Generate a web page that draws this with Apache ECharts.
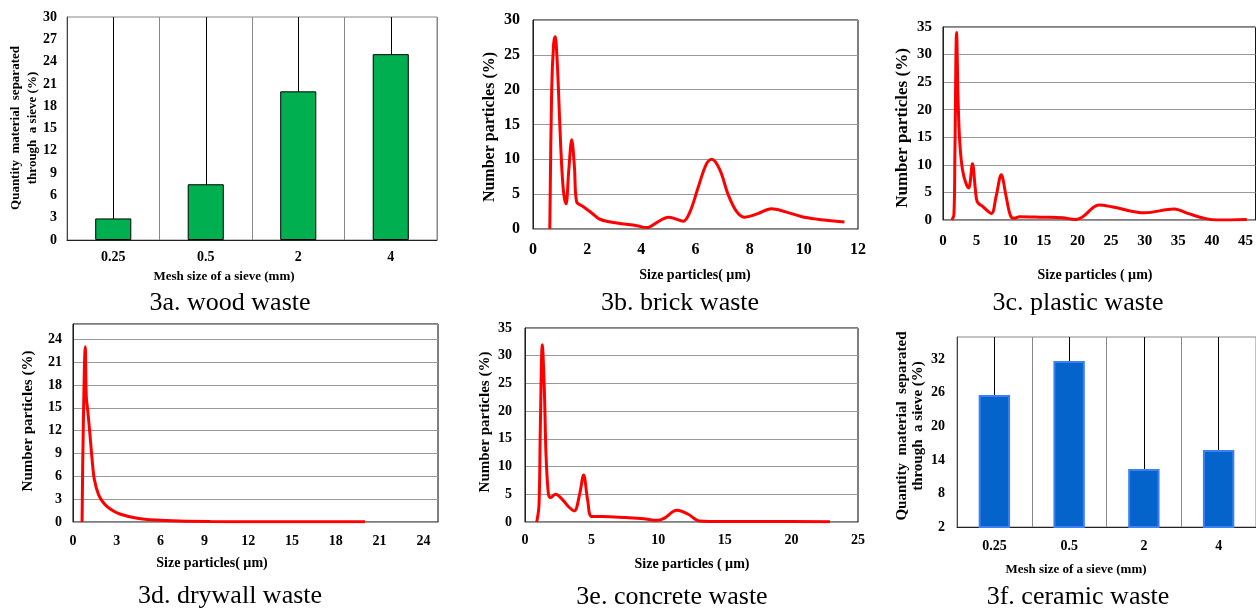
<!DOCTYPE html>
<html><head><meta charset="utf-8">
<script src="https://cdn.jsdelivr.net/npm/echarts@6/dist/echarts.min.js"></script>
<style>html,body{margin:0;padding:0;background:#fff}#c{width:1256px;height:612px}</style>
</head><body><div id="c"></div>
<script>
// ---- data ----
const sieveCategories = ['0.25', '0.5', '2', '4'];
const woodValues = [2.9, 7.5, 20, 25];
const ceramicValues = [25.6, 31.7, 12.4, 15.8];

const brickX = [0.62, 0.69, 0.76, 0.82, 0.88, 0.94, 1.02, 1.12, 1.22, 1.32, 1.43, 1.53, 1.61, 1.86, 2.17, 2.47, 3.1, 3.83, 4.2, 4.6, 5.0, 5.3, 5.55, 5.8, 6.1, 6.4, 6.6, 6.9, 7.2, 7.5, 7.8, 8.3, 8.8, 9.3, 9.9, 10.5, 11.0, 11.5];
const brickY = [0, 20, 26.5, 27.6, 25, 20, 12.2, 5.6, 3.6, 8.4, 12.8, 8.9, 3.9, 3.2, 2.3, 1.4, 0.85, 0.47, 0.2, 1.0, 1.7, 1.4, 1.1, 2.5, 6.0, 9.3, 10.0, 8.5, 5.0, 2.6, 1.7, 2.2, 2.9, 2.5, 1.8, 1.4, 1.2, 1.0];

const plasticX = [1.3, 1.62, 1.77, 2.02, 2.26, 2.5, 2.9, 3.4, 3.83, 4.38, 4.82, 5.1, 5.95, 7.2, 7.9, 8.66, 9.4, 10.0, 10.5, 11.4, 14.8, 17.8, 19.7, 20.7, 23.2, 25.1, 30.0, 34.4, 36.4, 38.9, 40.8, 45.2];
const plasticY = [0, 0.9, 12, 34, 21, 14, 9.1, 6.7, 5.8, 10.2, 5.5, 3.3, 2.4, 1.2, 4.3, 8.2, 4.2, 0.9, 0.3, 0.6, 0.5, 0.4, 0.1, 0.5, 2.7, 2.4, 1.3, 2.0, 1.2, 0.3, 0.0, 0.1];

const drywallX = [0.62, 0.7, 0.84, 0.91, 1.0, 1.1, 1.2, 1.3, 1.46, 1.75, 2.1, 2.55, 3.2, 4.4, 5.7, 7.3, 9.4, 12, 15, 18, 20];
const drywallY = [0, 12, 23, 16.5, 14.8, 12.8, 10.6, 8.4, 5.6, 3.6, 2.5, 1.7, 1.05, 0.5, 0.25, 0.12, 0.06, 0.04, 0.03, 0.02, 0.02];

const concreteX = [0.88, 1.05, 1.15, 1.3, 1.45, 1.58, 1.75, 1.9, 2.3, 2.9, 3.25, 3.7, 4.1, 4.4, 4.7, 5.0, 5.75, 7.6, 8.9, 9.9, 10.4, 11.4, 12.25, 13.1, 14.9, 18, 22.9];
const concreteY = [0, 3, 17, 32, 24, 12, 5.2, 4.4, 5.0, 3.8, 2.8, 2.0, 5, 8.5, 4, 1.0, 1.0, 0.8, 0.6, 0.3, 0.6, 2.1, 1.4, 0.2, 0.1, 0.1, 0.05];

const captions = ['3a. wood waste', '3b. brick waste', '3c. plastic waste', '3d. drywall waste', '3e. concrete waste', '3f. ceramic waste'];
const sieveTitle = 'Mesh size of a sieve (mm)';
const quantityTitle = 'Quantity  material  separated\nthrough  a sieve (%)';
const numberTitle = 'Number particles (%)';

// ---- layout ----
const F = 'Liberation Serif';
const grids = [
  {left: 67, top: 17, width: 370, height: 223},
  {left: 533, top: 20, width: 325, height: 209},
  {left: 943, top: 27, width: 315, height: 193},
  {left: 73, top: 324, width: 365, height: 198},
  {left: 525, top: 328, width: 333, height: 194},
  {left: 957, top: 337, width: 304, height: 190}
];
const pairs = (xs, ys) => xs.map((x, i) => [x, ys[i]]);

function lab(size, margin, extra) {
  return Object.assign({fontFamily: F, fontWeight: 'bold', fontSize: size, color: '#000', margin: margin}, extra || {});
}

const xAxes = [], yAxes = [], series = [];
const gridOpts = grids.map((g, i) => Object.assign({}, g, {
  show: true, borderColor: (i === 0 || i === 5) ? '#888' : '#000', borderWidth: 1, containLabel: false
}));

// bar panels
function barPanel(gi, cats, vals, ymin, ymax, step, fs, color, border, bw, lm, ym) {
  xAxes.push({type: 'category', gridIndex: gi, data: cats,
    axisLine: {show: true, lineStyle: {color: '#222', width: 1}}, axisTick: {show: false},
    axisLabel: lab(fs, lm), splitLine: {show: true, lineStyle: {color: '#888', width: 1}}});
  yAxes.push({type: 'value', gridIndex: gi, min: ymin, max: ymax, interval: step,
    axisLine: {show: true, lineStyle: {color: '#444'}}, axisTick: {show: false},
    axisLabel: lab(fs, ym, {showMaxLabel: (ymax - ymin) % step === 0}), splitLine: {show: false}});
  const ax = xAxes.length - 1;
  series.push({type: 'line', xAxisIndex: ax, yAxisIndex: ax, data: [], z: 1,
    markLine: {silent: true, symbol: ['none', 'none'], z: 1, label: {show: false},
      lineStyle: {color: '#000', width: 1, type: 'solid'}, emphasis: {disabled: true},
      data: cats.map(c => ({xAxis: c}))}});
  series.push({type: 'bar', xAxisIndex: ax, yAxisIndex: ax, data: vals, z: 10, barWidth: bw,
    itemStyle: {color: color, borderColor: border, borderWidth: border === '#000' ? 1 : 2}});
}
// line panels
function linePanel(gi, xs, ys, xmax, xstep, ymax, ystep, fs, lm, ym) {
  xAxes.push({type: 'value', gridIndex: gi, min: 0, max: xmax, interval: xstep,
    axisLine: {show: true, lineStyle: {color: '#999', width: 1}}, axisTick: {show: false},
    axisLabel: lab(fs, lm, {showMaxLabel: xmax % xstep === 0}), splitLine: {show: false}});
  yAxes.push({type: 'value', gridIndex: gi, min: 0, max: ymax, interval: ystep,
    axisLine: {show: true, lineStyle: {color: '#222', width: 1}}, axisTick: {show: false},
    axisLabel: lab(fs, ym, {showMaxLabel: ymax % ystep === 0}),
    splitLine: {show: true, lineStyle: {color: '#999', width: 1}}});
  const ax = xAxes.length - 1;
  series.push({type: 'line', xAxisIndex: ax, yAxisIndex: ax, data: pairs(xs, ys),
    smooth: 0.35, showSymbol: false, symbol: 'none',
    lineStyle: {color: '#ff0000', width: 3}});
}

barPanel(0, sieveCategories, woodValues, 0, 30, 3, 14, '#00b050', '#000', '39%', 10, 10);
linePanel(1, brickX, brickY, 12, 2, 30, 5, 16, 13, 13);
linePanel(2, plasticX, plasticY, 46.5, 5, 35, 5, 15, 14, 11);
linePanel(3, drywallX, drywallY, 25, 3, 26, 3, 14, 12, 11);
linePanel(4, concreteX, concreteY, 25, 5, 35, 5, 14, 11, 13);
barPanel(5, sieveCategories, ceramicValues, 2, 36, 6, 14, '#0563cc', '#3d7ff5', '42%', 12, 12);

// ---- texts ----
const graphics = [];
function txt(x, y, text, size, bold, rot, lh) {
  graphics.push({type: 'text', x: x, y: y, rotation: rot ? Math.PI / 2 : 0, z: 100,
    style: {text: text, fontFamily: F, fontSize: size, fontWeight: bold ? 'bold' : 'normal',
      fill: '#000', textAlign: 'center', textVerticalAlign: 'middle', lineHeight: lh || size}});
}
const capPos = [[230, 303], [680, 303], [1078, 303], [230, 596], [672, 597], [1078, 597]];
captions.forEach((c, i) => txt(capPos[i][0], capPos[i][1], c, 26, false, false));
txt(224, 277, sieveTitle, 13, true, false);
txt(1076, 570, sieveTitle, 13, true, false);
txt(695, 275, 'Size particles( µm)', 14, true, false);
txt(1095, 275, 'Size particles ( µm)', 14, true, false);
txt(212, 563, 'Size particles( µm)', 14, true, false);
txt(692, 564, 'Size particles ( µm)', 14, true, false);
txt(24, 128, quantityTitle, 13, true, true, 17);
txt(910, 426, quantityTitle, 15, true, true, 16);
txt(490, 127, numberTitle, 16, true, true);
txt(903, 128, numberTitle, 17, true, true);
txt(28, 421, numberTitle, 15, true, true);
txt(485, 422, numberTitle, 15, true, true);

const chart = echarts.init(document.getElementById('c'), null, {renderer: 'canvas'});
chart.setOption({
  animation: false,
  backgroundColor: '#fff',
  grid: gridOpts,
  xAxis: xAxes,
  yAxis: yAxes,
  series: series,
  graphic: graphics
});
</script>
</body></html>
